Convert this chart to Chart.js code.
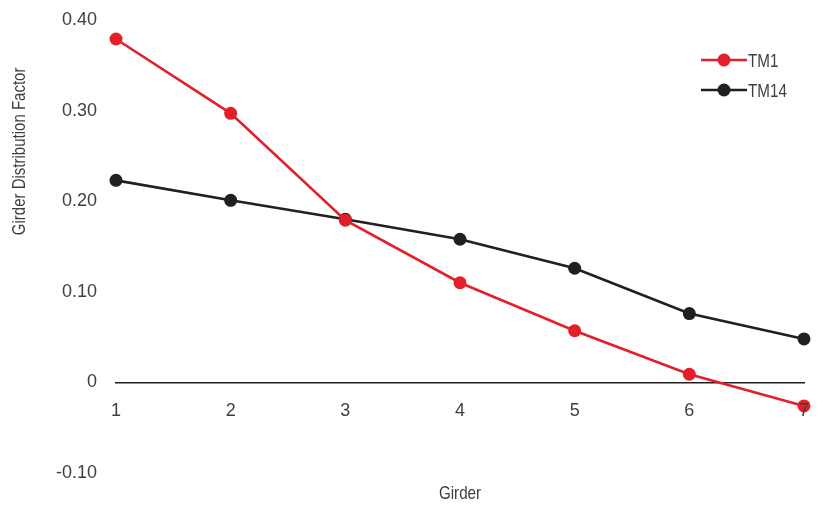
<!DOCTYPE html>
<html>
<head>
<meta charset="utf-8">
<script src="https://cdn.jsdelivr.net/npm/chart.js@4/dist/chart.umd.min.js"></script>
<style>
  html, body { margin: 0; padding: 0; background: #fff; }
  #wrap { width: 836px; height: 508px; }
</style>
</head>
<body>
<div id="wrap"><canvas id="chart"></canvas></div>
<script>
// data
const girders = ['1', '2', '3', '4', '5', '6', '7'];
const tm1 = [0.379, 0.297, 0.179, 0.110, 0.057, 0.009, -0.026];
const tm14 = [0.223, 0.201, 0.180, 0.158, 0.126, 0.076, 0.048];
const yTicks = [-0.10, 0, 0.10, 0.20, 0.30, 0.40];

const FONT = "'Liberation Sans', Arial, sans-serif";
const TEXT = '#3f3f3f';
const RED = '#e3202a';
const BLACK = '#231f20';

// the original uses a condensed face; squeeze canvas text horizontally
function narrowText(ctx, text, x, y, size, squeeze, align, angle) {
  ctx.save();
  ctx.translate(x, y);
  if (angle) ctx.rotate(angle);
  ctx.scale(squeeze, 1);
  ctx.font = size + 'px ' + FONT;
  ctx.fillStyle = TEXT;
  ctx.textAlign = align;
  ctx.textBaseline = 'middle';
  ctx.fillText(text, 0, 0);
  ctx.restore();
}

const axisTitles = {
  id: 'axisTitles',
  afterDraw(chart) {
    const { ctx, scales, chartArea } = chart;
    narrowText(ctx, 'Girder Distribution Factor', 20, scales.y.getPixelForValue(0.255), 19, 0.79, 'center', -Math.PI / 2);
    narrowText(ctx, 'Girder', (chartArea.left + chartArea.right) / 2, chartArea.bottom + 21, 19, 0.8, 'center');
  }
};

// legend with line + marker, stacked in the top-right corner
const lineLegend = {
  id: 'lineLegend',
  afterDraw(chart) {
    const { ctx, chartArea } = chart;
    const x0 = chartArea.right - 103;
    chart.data.datasets.forEach((ds, i) => {
      const y = chartArea.top + 40 + i * 30;
      ctx.save();
      ctx.strokeStyle = ds.borderColor;
      ctx.lineWidth = 2.5;
      ctx.beginPath();
      ctx.moveTo(x0, y);
      ctx.lineTo(x0 + 46, y);
      ctx.stroke();
      ctx.fillStyle = ds.pointBackgroundColor;
      ctx.beginPath();
      ctx.arc(x0 + 23, y, 6.5, 0, Math.PI * 2);
      ctx.fill();
      ctx.restore();
      narrowText(ctx, ds.label, x0 + 47, y + 2, 19, 0.8, 'left');
    });
  }
};

new Chart(document.getElementById('chart'), {
  type: 'line',
  data: {
    labels: girders,
    datasets: [
      {
        label: 'TM1', data: tm1,
        borderColor: RED, backgroundColor: RED, pointBackgroundColor: RED,
        borderWidth: 2.6, pointRadius: 6.5, pointBorderWidth: 0, pointHoverRadius: 6.5,
        clip: false, tension: 0
      },
      {
        label: 'TM14', data: tm14,
        borderColor: BLACK, backgroundColor: BLACK, pointBackgroundColor: BLACK,
        borderWidth: 2.6, pointRadius: 6.5, pointBorderWidth: 0, pointHoverRadius: 6.5,
        clip: false, tension: 0
      }
    ]
  },
  options: {
    responsive: true, maintainAspectRatio: false, animation: false,
    layout: { padding: { left: 0, right: 32, top: 20, bottom: 35 } },
    plugins: { legend: { display: false }, tooltip: { enabled: false } },
    scales: {
      // zero line, drawn under the series
      x: {
        position: { y: 0 },
        offset: false,
        afterFit(scale) { scale.paddingTop = 0; scale.paddingBottom = 0; },
        grid: { display: false, drawTicks: false },
        border: { display: true, color: BLACK, width: 1.5 },
        ticks: { display: false }
      },
      // girder numbers, drawn over the markers
      xLabels: {
        type: 'category', axis: 'x',
        position: { y: 0 },
        offset: false,
        afterFit(scale) { scale.paddingTop = 0; scale.paddingBottom = 0; },
        grid: { display: false, drawTicks: false },
        border: { display: false },
        ticks: { z: 1, color: TEXT, font: { family: FONT, size: 18 }, padding: 18, maxRotation: 0 }
      },
      y: {
        min: -0.1, max: 0.4,
        afterFit(scale) { scale.width = 116; scale.paddingTop = 0; scale.paddingBottom = 0; },
        afterBuildTicks(scale) { scale.ticks = yTicks.map(v => ({ value: v })); },
        grid: { display: false, drawTicks: false },
        border: { display: false },
        ticks: {
          color: TEXT, font: { family: FONT, size: 18 }, padding: 19,
          callback: v => Math.abs(v) < 1e-9 ? '0' : v.toFixed(2)
        }
      }
    }
  },
  plugins: [axisTitles, lineLegend]
});
</script>
</body>
</html>
